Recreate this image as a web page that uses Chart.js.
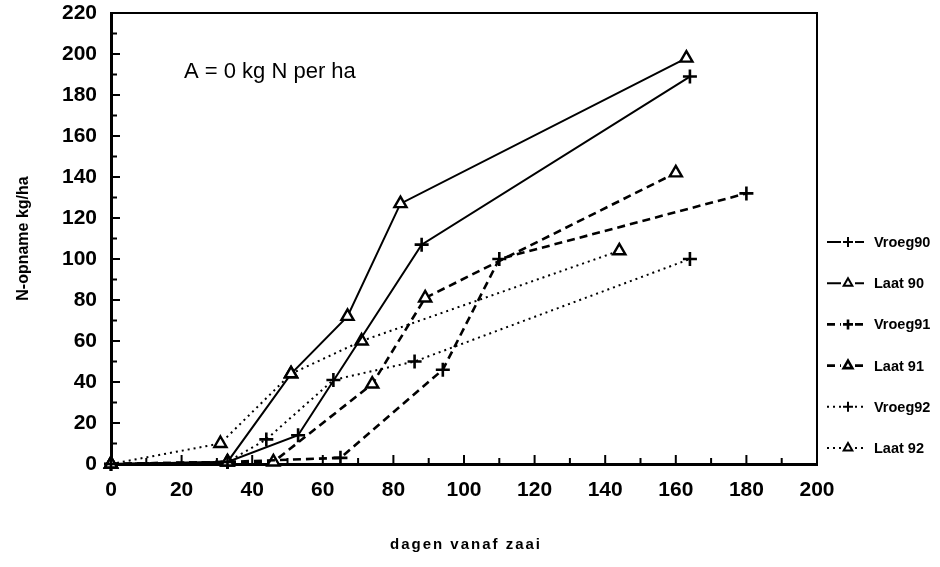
<!DOCTYPE html>
<html>
<head>
<meta charset="utf-8">
<title>N-opname</title>
<script src="https://cdn.jsdelivr.net/npm/chart.js@4.4.1/dist/chart.umd.min.js"></script>
<style>
  html, body { margin: 0; padding: 0; background: #fff; }
  canvas { display: block; }
</style>
</head>
<body>
<canvas id="uptakeChart" width="940" height="567"></canvas>
<script>
// ---- Data: N-opname (kg/ha) tegen dagen vanaf zaai ----
const seriesNames = ['Vroeg90', 'Laat 90', 'Vroeg91', 'Laat 91', 'Vroeg92', 'Laat 92'];

const vroeg90Days = [0, 33, 53, 88, 164];
const vroeg90N    = [0, 1, 14, 107, 189];

const laat90Days  = [0, 33, 51, 67, 82, 163];
const laat90N     = [0, 1, 44, 72, 127, 198];

const vroeg91Days = [0, 33, 65, 94, 110, 180];
const vroeg91N    = [0, 1, 3, 46, 100, 132];

const laat91Days  = [0, 33, 46, 74, 89, 160];
const laat91N     = [0, 1, 1, 39, 81, 142];

const vroeg92Days = [0, 33, 44, 63, 86, 164];
const vroeg92N    = [0, 1, 12, 41, 50, 100];

const laat92Days  = [0, 31, 51, 71, 144];
const laat92N     = [0, 10, 44, 60, 104];

const xTickValues = [0, 20, 40, 60, 80, 100, 120, 140, 160, 180, 200];
const yTickValues = [0, 20, 40, 60, 80, 100, 120, 140, 160, 180, 200, 220];

const yTitle = 'N-opname kg/ha';
const xTitle = 'dagen vanaf zaai';
const noteText = 'A = 0 kg N per ha';

const FONT = '"Liberation Sans", Arial, sans-serif';

function pairs(days, values) {
  return days.map((d, i) => ({ x: d, y: values[i] }));
}

// line styles per group: solid = 1990, dashed = 1991, dotted = 1992
const SOLID  = [];
const DASHED = [8, 5];
const DOTTED = [2, 4];

function series(label, days, values, dash, marker) {
  const isCross = marker === 'cross';
  return {
    label,
    data: pairs(days, values),
    showLine: true,
    borderColor: '#000',
    borderWidth: dash === SOLID ? 2 : (dash === DASHED ? 2.6 : 2),
    borderDash: dash,
    pointStyle: marker,
    pointRadius: 7,
    pointBorderWidth: isCross ? 2.6 : 2.4,
    pointBackgroundColor: '#fff',
    pointBorderColor: '#000',
    tension: 0,
    clip: false,
  };
}

// ---- Frame, inner ticks, note text and x title ----
const framePlugin = {
  id: 'frame',
  afterDraw(chart) {
    const { ctx, chartArea: a, scales: { x, y } } = chart;
    ctx.save();
    ctx.strokeStyle = '#000';
    ctx.lineCap = 'butt';

    ctx.lineWidth = 2;
    ctx.beginPath();
    ctx.moveTo(a.left, a.top);
    ctx.lineTo(a.right, a.top);
    ctx.lineTo(a.right, a.bottom);
    ctx.stroke();

    ctx.beginPath();
    for (let v = 10; v < 200; v += 10) {
      const px = x.getPixelForValue(v);
      const len = v % 20 === 0 ? 9 : 6;
      ctx.moveTo(px, a.bottom);
      ctx.lineTo(px, a.bottom - len);
    }
    for (let v = 10; v < 220; v += 10) {
      const py = y.getPixelForValue(v);
      const len = v % 20 === 0 ? 9 : 6;
      ctx.moveTo(a.left, py);
      ctx.lineTo(a.left + len, py);
    }
    ctx.stroke();

    ctx.fillStyle = '#000';
    ctx.font = '22px ' + FONT;
    ctx.textBaseline = 'alphabetic';
    ctx.textAlign = 'left';
    ctx.fillText(noteText, 184, 78);

    ctx.font = 'bold 15px ' + FONT;
    ctx.letterSpacing = '2px';
    ctx.textAlign = 'center';
    ctx.textBaseline = 'middle';
    ctx.fillText(xTitle, 466, 545);
    ctx.restore();
  }
};

// ---- Legend at the right: line sample with marker, then label ----
const sideLegend = {
  id: 'sideLegend',
  afterDraw(chart) {
    const { ctx } = chart;
    const top = 242, gap = 41.2;
    const x0 = 827, xm = 848, x1 = 864, tx = 874;
    ctx.save();
    chart.data.datasets.forEach((ds, i) => {
      const cy = top + i * gap;
      ctx.strokeStyle = '#000';
      ctx.lineWidth = ds.borderWidth;
      ctx.setLineDash(ds.borderDash);
      ctx.beginPath();
      ctx.moveTo(x0, cy); ctx.lineTo(xm - 7, cy);
      ctx.moveTo(xm + 7, cy); ctx.lineTo(x1, cy);
      ctx.stroke();
      ctx.setLineDash([]);
      ctx.fillStyle = '#fff';
      Chart.helpers.drawPoint(ctx, {
        pointStyle: ds.pointStyle,
        radius: 5,
        borderWidth: 2,
        rotation: 0,
      }, xm, cy);
      ctx.fillStyle = '#000';
      ctx.font = 'bold 14.5px ' + FONT;
      ctx.textAlign = 'left';
      ctx.textBaseline = 'middle';
      ctx.fillText(ds.label, tx, cy + 1);
    });
    ctx.restore();
  }
};

new Chart(document.getElementById('uptakeChart'), {
  type: 'scatter',
  data: {
    datasets: [
      series(seriesNames[0], vroeg90Days, vroeg90N, SOLID, 'cross'),
      series(seriesNames[1], laat90Days, laat90N, SOLID, 'triangle'),
      series(seriesNames[2], vroeg91Days, vroeg91N, DASHED, 'cross'),
      series(seriesNames[3], laat91Days, laat91N, DASHED, 'triangle'),
      series(seriesNames[4], vroeg92Days, vroeg92N, DOTTED, 'cross'),
      series(seriesNames[5], laat92Days, laat92N, DOTTED, 'triangle'),
    ]
  },
  options: {
    responsive: false,
    animation: false,
    devicePixelRatio: 1,
    layout: { padding: { top: 13, right: 123, left: 0, bottom: 0 } },
    plugins: {
      legend: { display: false },
      tooltip: { enabled: false },
    },
    scales: {
      x: {
        type: 'linear',
        min: 0,
        max: 200,
        afterBuildTicks: s => { s.ticks = xTickValues.map(v => ({ value: v })); },
        afterFit: s => { s.height = 103; s.paddingLeft = 0; s.paddingRight = 0; },
        grid: { display: false, drawTicks: false },
        border: { display: true, color: '#000', width: 3 },
        ticks: {
          color: '#000',
          padding: 14,
          maxRotation: 0,
          font: { family: FONT, size: 21, weight: 'bold' },
        },
      },
      y: {
        type: 'linear',
        min: 0,
        max: 220,
        afterBuildTicks: s => { s.ticks = yTickValues.map(v => ({ value: v })); },
        afterFit: s => { s.width = 111; s.paddingTop = 0; s.paddingBottom = 0; },
        grid: { display: false, drawTicks: false },
        border: { display: true, color: '#000', width: 3 },
        ticks: {
          color: '#000',
          padding: 14,
          font: { family: FONT, size: 21, weight: 'bold' },
        },
        title: {
          display: true,
          text: yTitle,
          color: '#000',
          padding: { top: 14, bottom: 0 },
          font: { family: FONT, size: 16, weight: 'bold' },
        },
      },
    },
  },
  plugins: [framePlugin, sideLegend],
});
</script>
</body>
</html>
